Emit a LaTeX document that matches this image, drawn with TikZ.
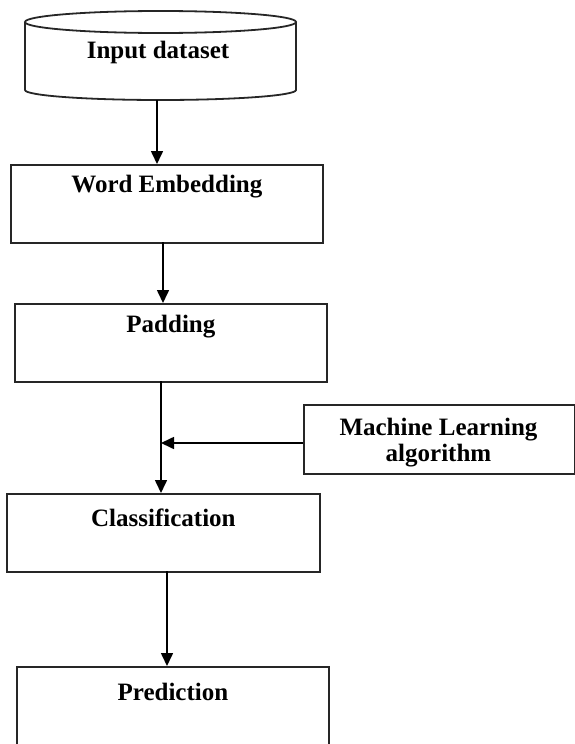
\documentclass[tikz,border=0pt]{standalone}
\usepackage{fontspec}
\setmainfont{Liberation Serif}
\usetikzlibrary{arrows.meta}
\tikzset{
  box/.style={draw=black!85, line width=1.8pt, rectangle, inner sep=0pt, anchor=north west},
  lbl/.style={font=\bfseries\fontsize{25}{26}\selectfont, text=black, inner sep=0pt, align=center},
  arr/.style={line width=1.6pt, -{Triangle[width=12pt,length=13pt]}},
  ln/.style={line width=1.6pt}
}
\begin{document}
\begin{tikzpicture}[x=1pt,y=-1pt]
\useasboundingbox (0,0) rectangle (575,744);
% cylinder
\draw[draw=black!85, line width=1.8pt] (160.5,22) ellipse [x radius=135.5, y radius=11];
\draw[draw=black!85, line width=1.8pt] (25,22) -- (25,90) arc [start angle=180, end angle=360, x radius=135.5, y radius=-10] -- (296,22);
\node[lbl] (in) at (158,52) {Input dataset};
\coordinate (inb) at (157,100);
% boxes
\node[box, minimum width=312pt, minimum height=78pt] (we) at (10,164) {};
\node[lbl] (wel) at ([yshift=-23pt]we.north) {Word Embedding};
\node[box, minimum width=312pt, minimum height=78pt] (pad) at (14,303) {};
\node[lbl] (padl) at ([yshift=-24pt]pad.north) {Padding};
\node[box, minimum width=313pt, minimum height=78pt] (cls) at (6,493) {};
\node[lbl] (clsl) at ([yshift=-25pt]cls.north) {Classification};
\node[box, minimum width=312pt, minimum height=80pt] (pred) at (16,666) {};
\node[lbl] (predl) at ([yshift=-26pt]pred.north) {Prediction};
\node[box, minimum width=271pt, minimum height=69pt] (ml) at (303,404) {};
\node[lbl] (mll) at (438.5,443) {Machine Learning\\algorithm};
% connectors
\draw[arr] (inb) -- (inb |- we.north);
\coordinate (web) at (163,242);
\draw[arr] (web) -- (web |- pad.north);
\coordinate (padb) at (161,381);
\coordinate (join) at (161,443);
\draw[arr] (padb) -- (padb |- cls.north);
\draw[arr] (ml.west |- join) -- (join);
\coordinate (clsb) at (167,571);
\draw[arr] (clsb) -- (clsb |- pred.north);
\end{tikzpicture}
\end{document}
